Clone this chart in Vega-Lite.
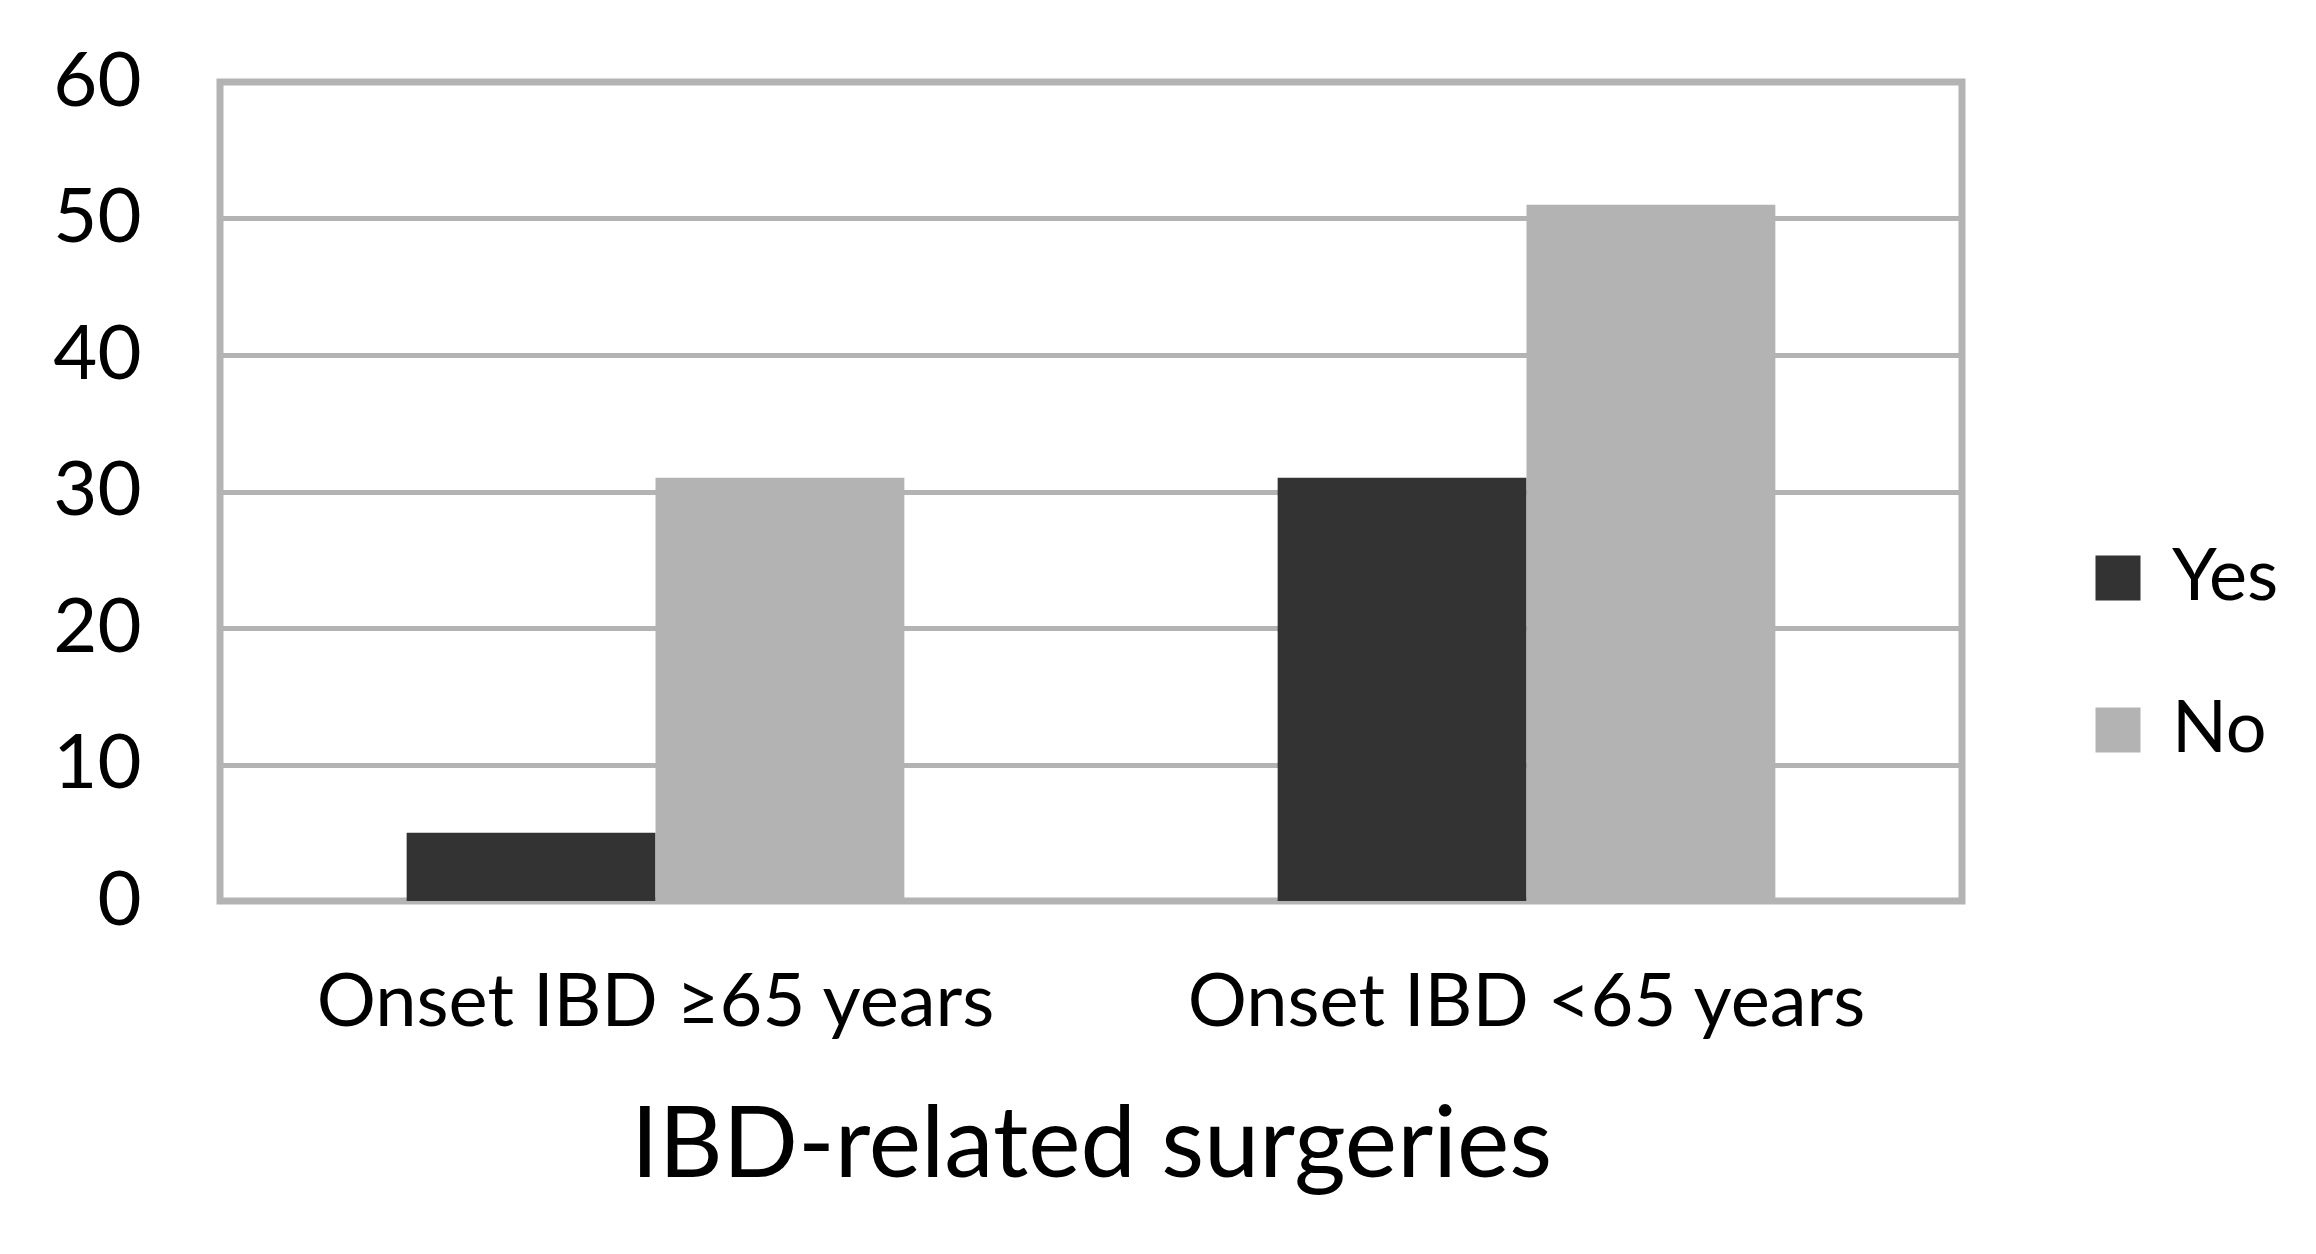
{
  "$schema": "https://vega.github.io/schema/vega-lite/v6.json",
  "autosize": {"type": "none"},
  "padding": {"left": 220, "top": 82, "right": 354, "bottom": 353},
  "width": 1742,
  "height": 819,
  "background": "white",
  "data": {"values": [
    {"group": "Onset IBD ≥65 years", "surgery": "Yes", "count": 5},
    {"group": "Onset IBD ≥65 years", "surgery": "No", "count": 31},
    {"group": "Onset IBD <65 years", "surgery": "Yes", "count": 31},
    {"group": "Onset IBD <65 years", "surgery": "No", "count": 51}
  ]},
  "mark": {"type": "bar"},
  "encoding": {
    "x": {
      "field": "group", "type": "nominal",
      "sort": ["Onset IBD ≥65 years", "Onset IBD <65 years"],
      "scale": {"paddingInner": 0, "paddingOuter": 0},
      "axis": {
        "title": "IBD-related surgeries",
        "labelAngle": 0, "domain": false, "ticks": false,
        "labelFontSize": 74, "labelFont": "Lato", "labelColor": "black",
        "labelPadding": 66, "labelLimit": 1000,
        "titleFontSize": 99, "titleFont": "Lato", "titleFontWeight": "normal", "titleColor": "black",
        "titlePadding": 58
      }
    },
    "xOffset": {
      "field": "surgery", "type": "nominal", "sort": ["Yes", "No"],
      "scale": {"paddingInner": 0, "paddingOuter": 0.75}
    },
    "y": {
      "field": "count", "type": "quantitative",
      "scale": {"domain": [0, 60]},
      "axis": {
        "title": null, "values": [0, 10, 20, 30, 40, 50, 60],
        "domain": false, "ticks": false,
        "grid": true, "gridColor": "#b3b3b3", "gridWidth": 5, "gridOpacity": 1,
        "labelFontSize": 76, "labelFont": "Lato", "labelColor": "black",
        "labelPadding": 79
      }
    },
    "color": {
      "field": "surgery", "type": "nominal", "sort": ["Yes", "No"],
      "scale": {"domain": ["Yes", "No"], "range": ["#333333", "#b3b3b3"]},
      "legend": {
        "title": null, "orient": "none", "legendX": 1862, "legendY": 460,
        "symbolType": "square", "symbolSize": 2025, "symbolStrokeWidth": 0,
        "labelFontSize": 72, "labelFont": "Lato", "labelColor": "black",
        "labelOffset": 18, "rowPadding": 80, "labelLimit": 400
      }
    }
  },
  "config": {
    "view": {"stroke": "#b3b3b3", "strokeWidth": 7},
    "axis": {"gridDash": []}
  }
}
